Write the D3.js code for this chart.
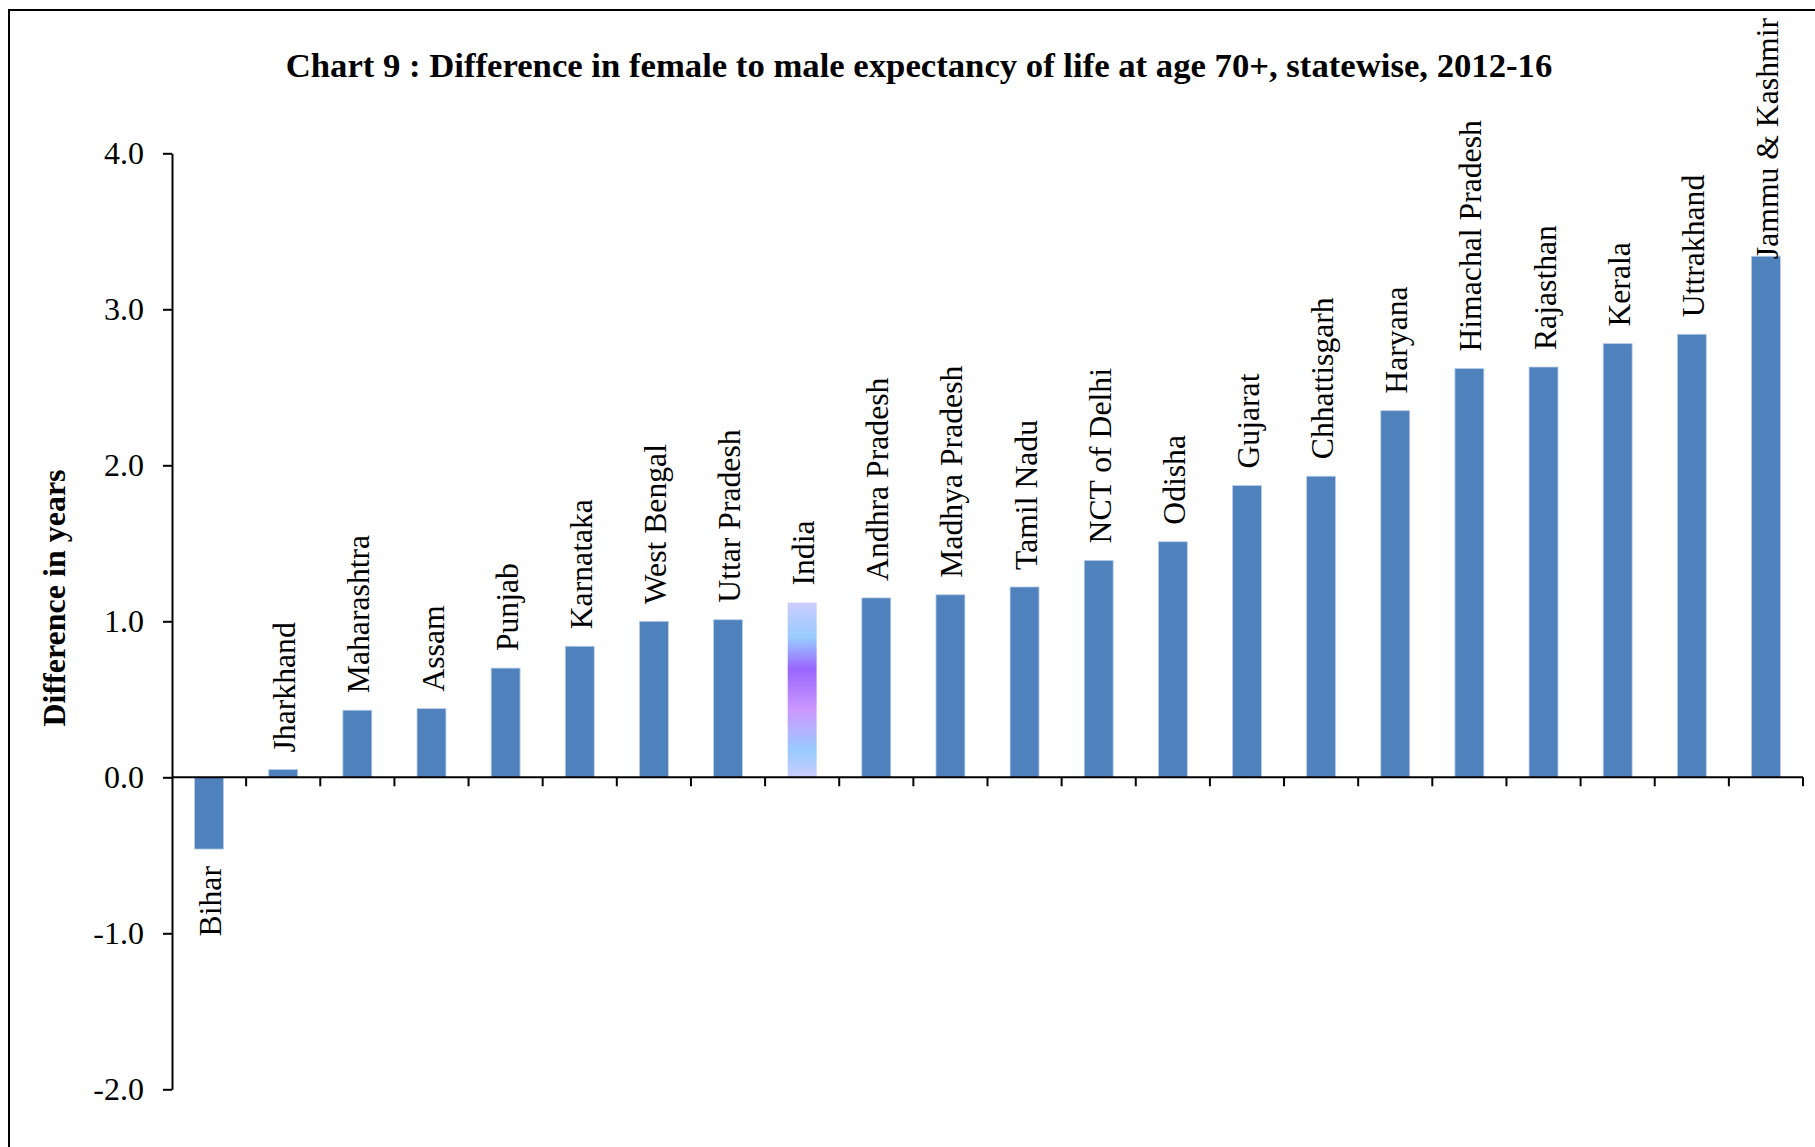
<!DOCTYPE html>
<html>
<head>
<meta charset="utf-8">
<script src="https://cdn.jsdelivr.net/npm/d3@7"></script>
<style>
  body { margin: 0; background: #fff; }
  svg text { font-family: "Liberation Serif", "Times New Roman", serif; fill: #000; }
</style>
</head>
<body>
<div id="vis"></div>
<script>
// states, sorted as in the chart
var states = ["Bihar", "Jharkhand", "Maharashtra", "Assam", "Punjab", "Karnataka",
  "West Bengal", "Uttar Pradesh", "India", "Andhra Pradesh", "Madhya Pradesh",
  "Tamil Nadu", "NCT of Delhi", "Odisha", "Gujarat", "Chhattisgarh", "Haryana",
  "Himachal Pradesh", "Rajasthan", "Kerala", "Uttrakhand", "Jammu & Kashmir"];

// difference in years (female - male)
var diffs = [-0.46, 0.05, 0.43, 0.44, 0.70, 0.84, 1.00, 1.01, 1.12, 1.15, 1.17,
  1.22, 1.39, 1.51, 1.87, 1.93, 2.35, 2.62, 2.63, 2.78, 2.84, 3.34];

var yTicks = [-2, -1, 0, 1, 2, 3, 4];

var width = 1815, height = 1147;

var svg = d3.select("#vis")
  .append("svg")
  .attr("width", width)
  .attr("height", height);

svg.append("rect").attr("width", width).attr("height", height).attr("fill", "#fff");

// frame (only left and top edges show in the picture)
svg.append("path")
  .attr("d", "M9," + height + "V10H" + width)
  .attr("fill", "none")
  .attr("stroke", "#000")
  .attr("stroke-width", 2);

var x = d3.scaleBand().domain(states).range([172, 1803]).padding(0);
var y = d3.scaleLinear().domain([-2, 4]).range([1089.3, 153.3]);

var barW = x.bandwidth() * 0.39;

// gradient used for the India bar
var grad = svg.append("defs").append("linearGradient")
  .attr("id", "indiaFill")
  .attr("x1", 0).attr("y1", 0).attr("x2", 0).attr("y2", 1);
[[0, "#ccccff"], [0.2, "#99ccff"], [0.38, "#9966ff"], [0.62, "#cc99ff"],
 [0.85, "#99ccff"], [1, "#ccccff"]].forEach(function(s) {
  grad.append("stop").attr("offset", s[0]).attr("stop-color", s[1]);
});

var data = states.map(function(s, i) { return {state: s, value: diffs[i]}; });

// bars
svg.selectAll(".bar")
  .data(data)
  .enter().append("rect")
  .attr("class", "bar")
  .attr("x", function(d) { return x(d.state) + (x.bandwidth() - barW) / 2; })
  .attr("y", function(d) { return y(Math.max(0, d.value)); })
  .attr("width", barW)
  .attr("height", function(d) { return Math.abs(y(d.value) - y(0)); })
  .attr("fill", function(d) { return d.state == "India" ? "url(#indiaFill)" : "#4f81bd"; })
  .attr("stroke", function(d) { return d.state == "India" ? "none" : "#b9cde5"; })
  .attr("stroke-width", 0.8);

// y axis
var yAxis = svg.append("g")
  .attr("transform", "translate(172,0)")
  .call(d3.axisLeft(y).tickValues(yTicks).tickSize(9).tickSizeOuter(0).tickPadding(19)
    .tickFormat(function(d) { return d.toFixed(1); }));
yAxis.select(".domain").attr("stroke-width", 2);
yAxis.selectAll(".tick line").attr("stroke-width", 2);
yAxis.selectAll(".tick text")
  .style("font-family", "'Liberation Serif', serif")
  .style("font-size", "32px");

// x axis at zero, ticks between categories
var xAxis = svg.append("g");
xAxis.append("line")
  .attr("x1", x.range()[0]).attr("x2", x.range()[1])
  .attr("y1", y(0)).attr("y2", y(0))
  .attr("stroke", "#000").attr("stroke-width", 2);
var bounds = states.slice(1).map(function(s) { return x(s); }).concat([x.range()[1]]);
xAxis.selectAll(".xtick")
  .data(bounds)
  .enter().append("line")
  .attr("x1", function(d) { return d; }).attr("x2", function(d) { return d; })
  .attr("y1", y(0)).attr("y2", y(0) + 9)
  .attr("stroke", "#000").attr("stroke-width", 2);

// category labels, rotated, placed past the end of each bar
var gap = 17, topLimit = 18;
svg.selectAll(".lbl")
  .data(data)
  .enter().append("text")
  .attr("class", "lbl")
  .style("font-size", "31.7px")
  .attr("dy", "0.38em")
  .text(function(d) { return d.state; })
  .each(function(d) {
    var t = d3.select(this);
    var cx = x(d.state) + x.bandwidth() / 2;
    var len = this.getComputedTextLength();
    if (d.value < 0) {
      t.attr("text-anchor", "end")
        .attr("transform", "translate(" + cx + "," + (y(d.value) + gap) + ") rotate(-90)");
    } else {
      var start = Math.max(y(d.value) - gap, topLimit + len);
      t.attr("text-anchor", "start")
        .attr("transform", "translate(" + cx + "," + start + ") rotate(-90)");
    }
  });

// title
svg.append("text")
  .attr("x", 919)
  .attr("y", 77)
  .attr("text-anchor", "middle")
  .style("font-size", "34.7px")
  .style("font-weight", "bold")
  .text("Chart 9 : Difference in female to male expectancy of life at age 70+, statewise, 2012-16");

// y axis title
svg.append("text")
  .attr("transform", "translate(65,598) rotate(-90)")
  .attr("text-anchor", "middle")
  .style("font-size", "32px")
  .style("font-weight", "bold")
  .text("Difference in years");
</script>
</body>
</html>
